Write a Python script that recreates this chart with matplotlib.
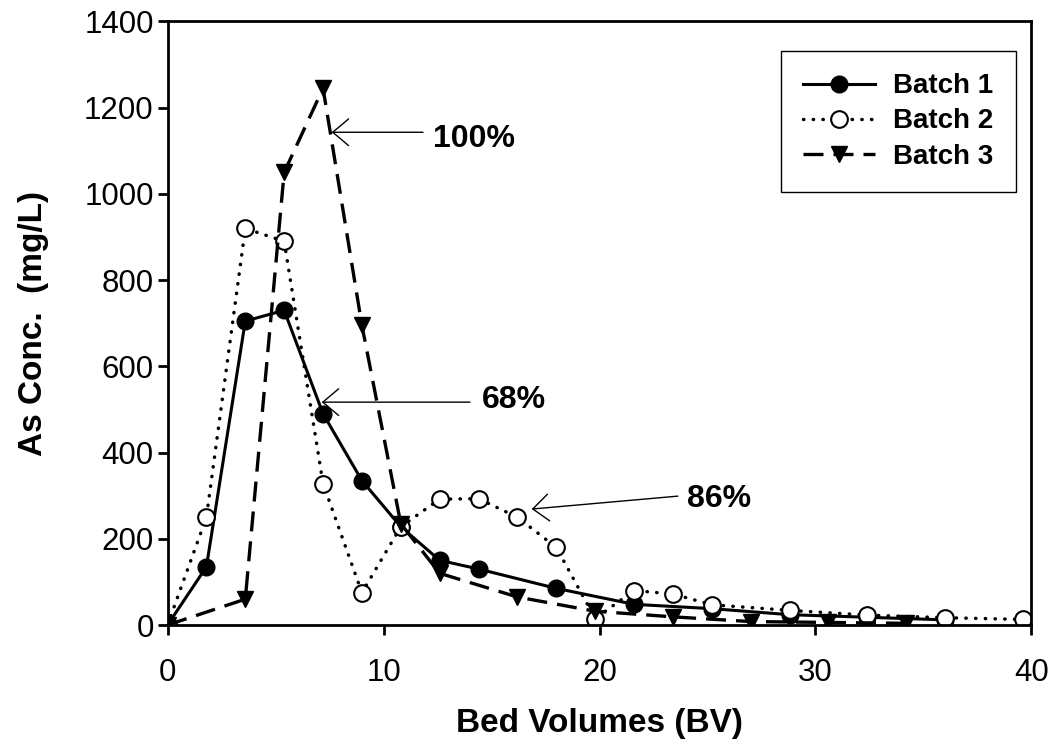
import numpy as np
import matplotlib
matplotlib.use("Agg")
import matplotlib.pyplot as plt

plt.rcParams['font.family'] = ['Liberation Sans', 'DejaVu Sans']

# data (BV, mg/L)
bv1 = [0, 1.8, 3.6, 5.4, 7.2, 9.0, 10.8, 12.6, 14.4, 18.0, 21.6, 25.2, 28.8, 32.4, 36.0]
as1 = [0, 135, 705, 730, 490, 335, 228, 150, 130, 85, 48, 38, 24, 18, 12]
bv2 = [0, 1.8, 3.6, 5.4, 7.2, 9.0, 10.8, 12.6, 14.4, 16.2, 18.0, 19.8, 21.6, 23.4, 25.2, 28.8, 32.4, 36.0, 39.6]
as2 = [0, 250, 920, 890, 328, 75, 228, 292, 293, 250, 180, 15, 80, 72, 47, 34, 23, 17, 13]
bv3 = [0, 3.6, 5.4, 7.2, 9.0, 10.8, 12.6, 16.2, 19.8, 23.4, 27.0, 30.6, 34.2]
as3 = [0, 60, 1050, 1245, 695, 235, 120, 65, 32, 19, 8, 6, 4]

fig = plt.figure(figsize=(10.55, 7.48), dpi=100)
ax = fig.add_axes([0.1588, 0.1644, 0.8189, 0.8069])

ax.plot(bv1, as1, color='black', lw=2.2, marker='o', ms=12, mfc='black', mec='black', label='Batch 1')
ax.plot(bv2, as2, color='black', lw=2.5, ls=(0, (0.1, 2.7)), dash_capstyle='round',
        marker='o', ms=12, mfc='white', mec='black', mew=1.5, label='Batch 2')
ax.plot(bv3, as3, color='black', lw=2.4, ls=(0, (6, 3)), marker='v', ms=12,
        mfc='black', mec='black', label='Batch 3')

ax.set_xlim(0, 40)
ax.set_ylim(0, 1400)
ax.set_xticks([0, 10, 20, 30, 40])
ax.set_yticks(np.arange(0, 1401, 200))
ax.tick_params(direction='out', length=7, width=2, labelsize=22.5)
ax.tick_params(axis='x', pad=17)
ax.tick_params(axis='y', pad=3)
for s in ax.spines.values():
    s.set_linewidth(2)
ax.set_xlabel('Bed Volumes (BV)', fontsize=24, fontweight='bold', labelpad=14)
ax.set_ylabel('As Conc.  (mg/L)', fontsize=24, fontweight='bold', labelpad=25)

arr = dict(arrowstyle='->,head_length=0.95,head_width=0.8', color='black', lw=1,
           mutation_scale=12, shrinkA=0, shrinkB=0)
ax.annotate('', xy=(7.6, 1143), xytext=(11.83, 1143), arrowprops=arr)
ax.text(12.3, 1128, '100%', fontsize=23, fontweight='bold', va='center')
ax.annotate('', xy=(7.14, 517), xytext=(14.0, 517), arrowprops=arr)
ax.text(14.56, 522, '68%', fontsize=23, fontweight='bold', va='center')
ax.annotate('', xy=(16.86, 269), xytext=(23.63, 299), arrowprops=arr)
ax.text(24.05, 292, '86%', fontsize=23, fontweight='bold', va='center')

leg = ax.legend(loc='upper right', bbox_to_anchor=(0.982, 0.951), borderaxespad=0,
                fancybox=False, edgecolor='black', framealpha=1,
                prop={'size': 20, 'weight': 'bold'}, handlelength=2.6,
                handletextpad=0.65, labelspacing=0.33, borderpad=0.8)
leg.get_frame().set_linewidth(1)

fig.savefig('out.png', dpi=100)
